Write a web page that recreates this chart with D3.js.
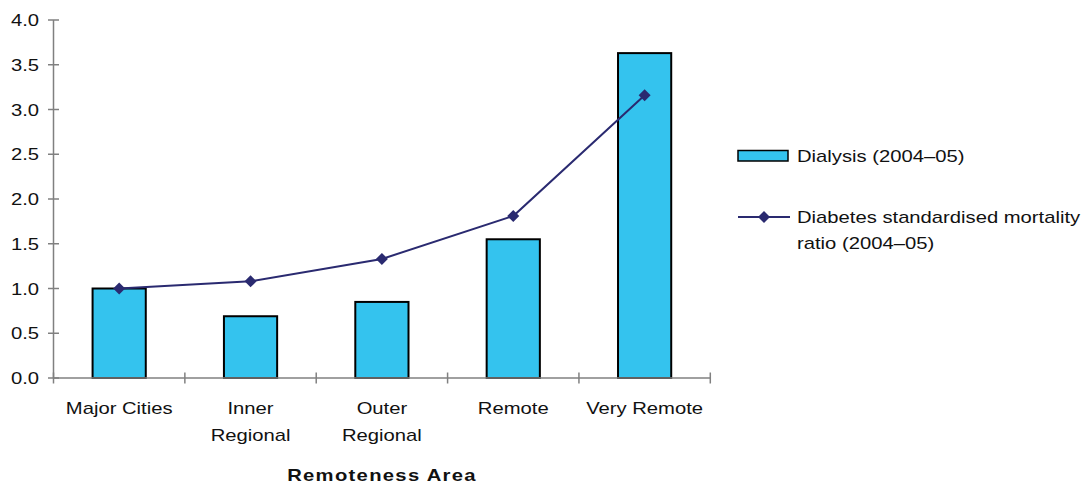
<!DOCTYPE html>
<html>
<head>
<meta charset="utf-8">
<script src="https://cdn.jsdelivr.net/npm/d3@7"></script>
<style>
  html, body { margin: 0; padding: 0; background: #fff; }
  svg { display: block; }
  text { font-family: "Liberation Sans", Arial, sans-serif; fill: #111; }
</style>
</head>
<body>
<svg id="chart" width="1088" height="486"></svg>
<script>
const categories = ["Major Cities", "Inner Regional", "Outer Regional", "Remote", "Very Remote"];
const categoryLines = [["Major Cities"], ["Inner", "Regional"], ["Outer", "Regional"], ["Remote"], ["Very Remote"]];
const dialysis = [1.0, 0.69, 0.85, 1.55, 3.63];
const mortality = [1.0, 1.08, 1.33, 1.81, 3.16];
const yTicks = [0, 0.5, 1.0, 1.5, 2.0, 2.5, 3.0, 3.5, 4.0];
const seriesNames = ["Dialysis (2004–05)", ["Diabetes standardised mortality", "ratio (2004–05)"]];
const xTitle = "Remoteness Area";

const barFill = "#34c3ee";
const lineColor = "#2a2a70";
const axisColor = "#808080";
const stretch = 1.19; // horizontal widening of the typeface

const svg = d3.select("#chart");

const x = d3.scaleBand().domain(categories).range([53.5, 710.3]).paddingInner(0).paddingOuter(0);
const y = d3.scaleLinear().domain([0, 4]).range([378, 20]);
const barW = x.bandwidth() * 0.405;

// stretched text helper
function label(g, px, py, str, anchor, opts = {}) {
  const t = g.append("text")
    .attr("transform", `translate(${px},${py}) scale(${stretch},1)`)
    .attr("text-anchor", anchor)
    .attr("font-size", opts.size || 17)
    .text(str);
  if (opts.weight) t.attr("font-weight", opts.weight);
  if (opts.spacing) t.attr("letter-spacing", opts.spacing);
  return t;
}

// bars
svg.append("g").selectAll("rect")
  .data(categories)
  .join("rect")
  .attr("x", (d) => x(d) + x.bandwidth() / 2 - barW / 2)
  .attr("y", (d, i) => y(dialysis[i]))
  .attr("width", barW)
  .attr("height", (d, i) => y(0) - y(dialysis[i]))
  .attr("fill", barFill)
  .attr("stroke", "#000")
  .attr("stroke-width", 2);

// axes
const axes = svg.append("g").attr("stroke", axisColor).attr("stroke-width", 1.5);
axes.append("line").attr("x1", x.range()[0]).attr("x2", x.range()[0]).attr("y1", y(4)).attr("y2", y(0));
axes.append("line").attr("x1", x.range()[0]).attr("x2", x.range()[1]).attr("y1", y(0)).attr("y2", y(0));
axes.selectAll(".yt").data(yTicks).join("line")
  .attr("x1", x.range()[0] - 5.5).attr("x2", x.range()[0] + 5.5)
  .attr("y1", (d) => y(d)).attr("y2", (d) => y(d));
const boundaries = categories.map((c) => x(c)).concat([x.range()[1]]);
axes.selectAll(".xt").data(boundaries).join("line")
  .attr("x1", (d) => d).attr("x2", (d) => d)
  .attr("y1", y(0) - 5.5).attr("y2", y(0) + 5.5);

// y tick labels
const yl = svg.append("g");
yTicks.forEach((v) => label(yl, 39, y(v) + 6, d3.format(".1f")(v), "end"));

// category labels
const xl = svg.append("g");
categories.forEach((c, i) => {
  categoryLines[i].forEach((ln, j) => {
    label(xl, x(c) + x.bandwidth() / 2, 414 + j * 27, ln, "middle");
  });
});

// axis title
label(svg, 382, 481, xTitle, "middle", { weight: "bold", spacing: 1.1 });

// line series
const line = d3.line()
  .x((d, i) => x(categories[i]) + x.bandwidth() / 2)
  .y((d) => y(d));
svg.append("path")
  .datum(mortality)
  .attr("d", line)
  .attr("fill", "none")
  .attr("stroke", lineColor)
  .attr("stroke-width", 2);

const diamond = d3.symbol().type(d3.symbolSquare).size(72);
svg.append("g").selectAll("path")
  .data(mortality)
  .join("path")
  .attr("d", diamond)
  .attr("transform", (d, i) => `translate(${x(categories[i]) + x.bandwidth() / 2},${y(d)}) rotate(45)`)
  .attr("fill", lineColor);

// legend
const lg = svg.append("g");
lg.append("rect").attr("x", 738).attr("y", 150.5).attr("width", 50).attr("height", 10.5)
  .attr("fill", barFill).attr("stroke", "#000").attr("stroke-width", 1.5);
label(lg, 797, 161.5, seriesNames[0], "start");

lg.append("line").attr("x1", 738).attr("x2", 790).attr("y1", 217).attr("y2", 217)
  .attr("stroke", lineColor).attr("stroke-width", 2);
lg.append("path").attr("d", diamond).attr("transform", "translate(764,217) rotate(45)").attr("fill", lineColor);
seriesNames[1].forEach((ln, j) => label(lg, 797, 222.5 + j * 26, ln, "start"));
</script>
</body>
</html>
